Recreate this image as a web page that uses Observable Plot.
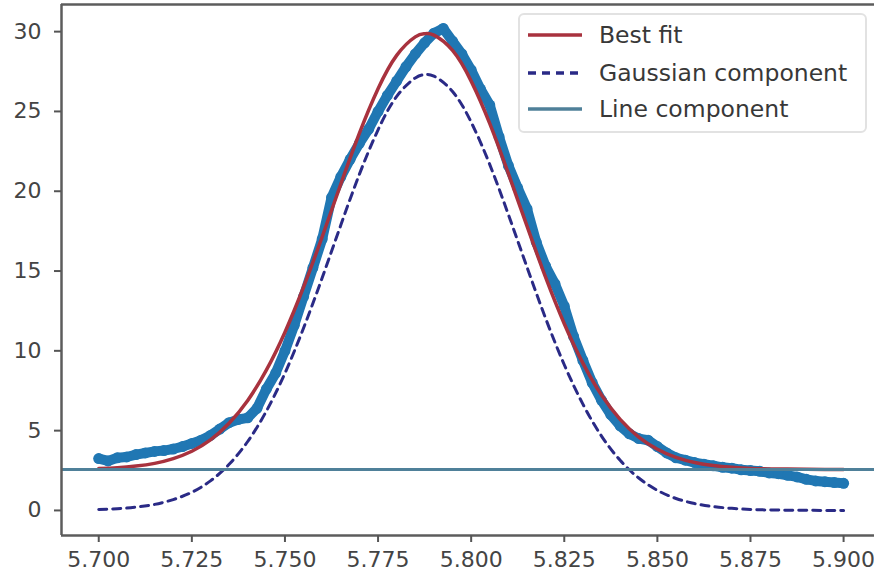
<!DOCTYPE html>
<html><head><meta charset="utf-8">
<script src="https://cdn.jsdelivr.net/npm/d3@7"></script>
<script src="https://cdn.jsdelivr.net/npm/@observablehq/plot@0.6"></script>
<style>
body{margin:0;background:#fff;}
#wrap{position:relative;width:874px;height:580px;overflow:hidden;}
.legend{position:absolute;left:518px;top:13px;width:349px;height:120px;border:2px solid #e2e2e2;border-radius:6px;background:rgba(255,255,255,0.85);box-sizing:border-box;font-family:"DejaVu Sans",sans-serif;font-size:23.5px;color:#383838;}
.row{position:absolute;left:8px;height:30px;display:flex;align-items:center;white-space:nowrap;}
.row svg{margin-right:17px;}
</style>
</head><body>
<div id="wrap"></div>
<script>
// Measured data (blue points)
const dataX = [5.700,5.7025,5.705,5.7075,5.710,5.7125,5.715,5.7175,5.720,5.7225,5.725,5.7275,5.730,5.7325,5.735,5.7375,5.740,5.7425,5.745,5.7475,5.750,5.7525,5.755,5.7575,5.760,5.7625,5.765,5.7675,5.770,5.7725,5.775,5.7775,5.780,5.7825,5.785,5.7875,5.790,5.7925,5.795,5.7975,5.800,5.8025,5.805,5.8075,5.810,5.8125,5.815,5.8175,5.820,5.8225,5.825,5.8275,5.830,5.8325,5.835,5.8375,5.840,5.8425,5.845,5.8475,5.850,5.8525,5.855,5.8575,5.860,5.8625,5.865,5.8675,5.870,5.8725,5.875,5.8775,5.880,5.8825,5.885,5.8875,5.890,5.8925,5.895,5.8975,5.900];
const dataY = [3.25,3.1,3.3,3.35,3.5,3.6,3.7,3.75,3.85,4.0,4.2,4.4,4.7,5.1,5.5,5.7,5.8,6.4,7.6,8.6,10.0,11.6,13.4,15.2,17.0,19.6,20.9,22.0,23.0,23.9,25.0,26.0,26.9,27.8,28.6,29.3,29.9,30.2,29.4,28.6,27.6,26.4,25.4,23.4,21.6,20.2,18.9,16.8,15.3,14.2,12.8,10.9,9.4,8.0,6.9,6.0,5.3,4.8,4.5,4.4,4.0,3.6,3.3,3.15,3.0,2.9,2.8,2.7,2.65,2.55,2.5,2.45,2.35,2.3,2.2,2.1,1.95,1.85,1.8,1.75,1.7];
// Fit curves
const fitX = [5.700,5.705,5.710,5.715,5.720,5.725,5.730,5.735,5.740,5.745,5.750,5.755,5.760,5.765,5.770,5.775,5.780,5.785,5.7875,5.790,5.795,5.800,5.805,5.810,5.815,5.820,5.825,5.830,5.835,5.840,5.845,5.850,5.855,5.860,5.865,5.870,5.875,5.880,5.885,5.890,5.895,5.900];
const bestFit = [2.63,2.68,2.78,2.95,3.25,3.71,4.42,5.46,6.89,8.79,11.17,14.00,17.15,20.45,23.64,26.42,28.51,29.67,29.87,29.78,28.82,26.90,24.24,21.10,17.81,14.60,11.70,9.23,7.23,5.71,4.60,3.83,3.32,3.00,2.81,2.70,2.63,2.60,2.59,2.58,2.57,2.57];
const gaussian = [0.06,0.11,0.21,0.38,0.68,1.14,1.85,2.89,4.32,6.22,8.60,11.43,14.58,17.88,21.07,23.85,25.94,27.10,27.30,27.21,26.25,24.33,21.67,18.53,15.24,12.03,9.13,6.66,4.66,3.14,2.03,1.26,0.75,0.43,0.24,0.13,0.06,0.03,0.015,0.007,0.003,0.001];
const lineLevel = [2.57];
const xTicks = [5.700,5.725,5.750,5.775,5.800,5.825,5.850,5.875,5.900];
const yTicks = [0,5,10,15,20,25,30];
const xDomain = [5.69, 5.9083];
const yDomain = [-1.57, 31.7];
const legendLabels = ["Best fit","Gaussian component","Line component"];

const C_DATA = "#2077b3", C_FIT = "#a8323e", C_GAUSS = "#2a2a86", C_LINE = "#4f8099", C_SPINE = "#5c5c5c";

const pts = dataX.map((x,i)=>({x, y:dataY[i]}));
const fit = fitX.map((x,i)=>({x, best:bestFit[i], g:gaussian[i]}));

const chart = Plot.plot({
  width: 874, height: 580,
  marginLeft: 61, marginRight: 0, marginTop: 4, marginBottom: 45,
  style: {fontFamily: "DejaVu Sans, sans-serif", fontSize: "22px", color: "#444", background: "white"},
  x: {domain: xDomain},
  y: {domain: yDomain},
  marks: [
    Plot.line(pts, {x:"x", y:"y", stroke: C_DATA, strokeWidth: 10, strokeLinejoin:"round", strokeLinecap:"round"}),
    Plot.dot(pts, {x:"x", y:"y", fill: C_DATA, r: 5.5}),
    Plot.line(fit, {x:"x", y:"best", stroke: C_FIT, strokeWidth: 3.5, curve: "natural"}),
    Plot.line(fit, {x:"x", y:"g", stroke: C_GAUSS, strokeWidth: 3, strokeDasharray: "8,6", curve: "natural"}),
    Plot.ruleY(lineLevel, {stroke: C_LINE, strokeWidth: 3}),
    Plot.ruleY(yDomain, {stroke: C_SPINE, strokeWidth: 2.5}),
    Plot.ruleX([xDomain[0]], {stroke: C_SPINE, strokeWidth: 2.5}),
    Plot.axisX({ticks: xTicks, tickFormat: d3.format(".3f"), tickSize: 7, tickPadding: 9, label: null, stroke: "#555", strokeWidth: 2}),
    Plot.axisY({ticks: yTicks, tickSize: 7, tickPadding: 13, label: null, stroke: "#555", strokeWidth: 2})
  ]
});
const wrap = document.getElementById("wrap");
wrap.appendChild(chart);

// legend
const leg = document.createElement("div");
leg.className = "legend";
const styles = [
  {stroke: C_FIT, dash: null},
  {stroke: C_GAUSS, dash: "8,6"},
  {stroke: C_LINE, dash: null}
];
const tops = [5, 43, 79];
legendLabels.forEach((lab,i)=>{
  const row = document.createElement("div");
  row.className = "row";
  row.style.top = tops[i] + "px";
  row.innerHTML = `<svg width="54" height="10"><line x1="0" x2="54" y1="5" y2="5" stroke="${styles[i].stroke}" stroke-width="3.5" ${styles[i].dash?`stroke-dasharray="${styles[i].dash}"`:""}/></svg><span>${lab}</span>`;
  leg.appendChild(row);
});
wrap.appendChild(leg);
</script>
</body></html>
